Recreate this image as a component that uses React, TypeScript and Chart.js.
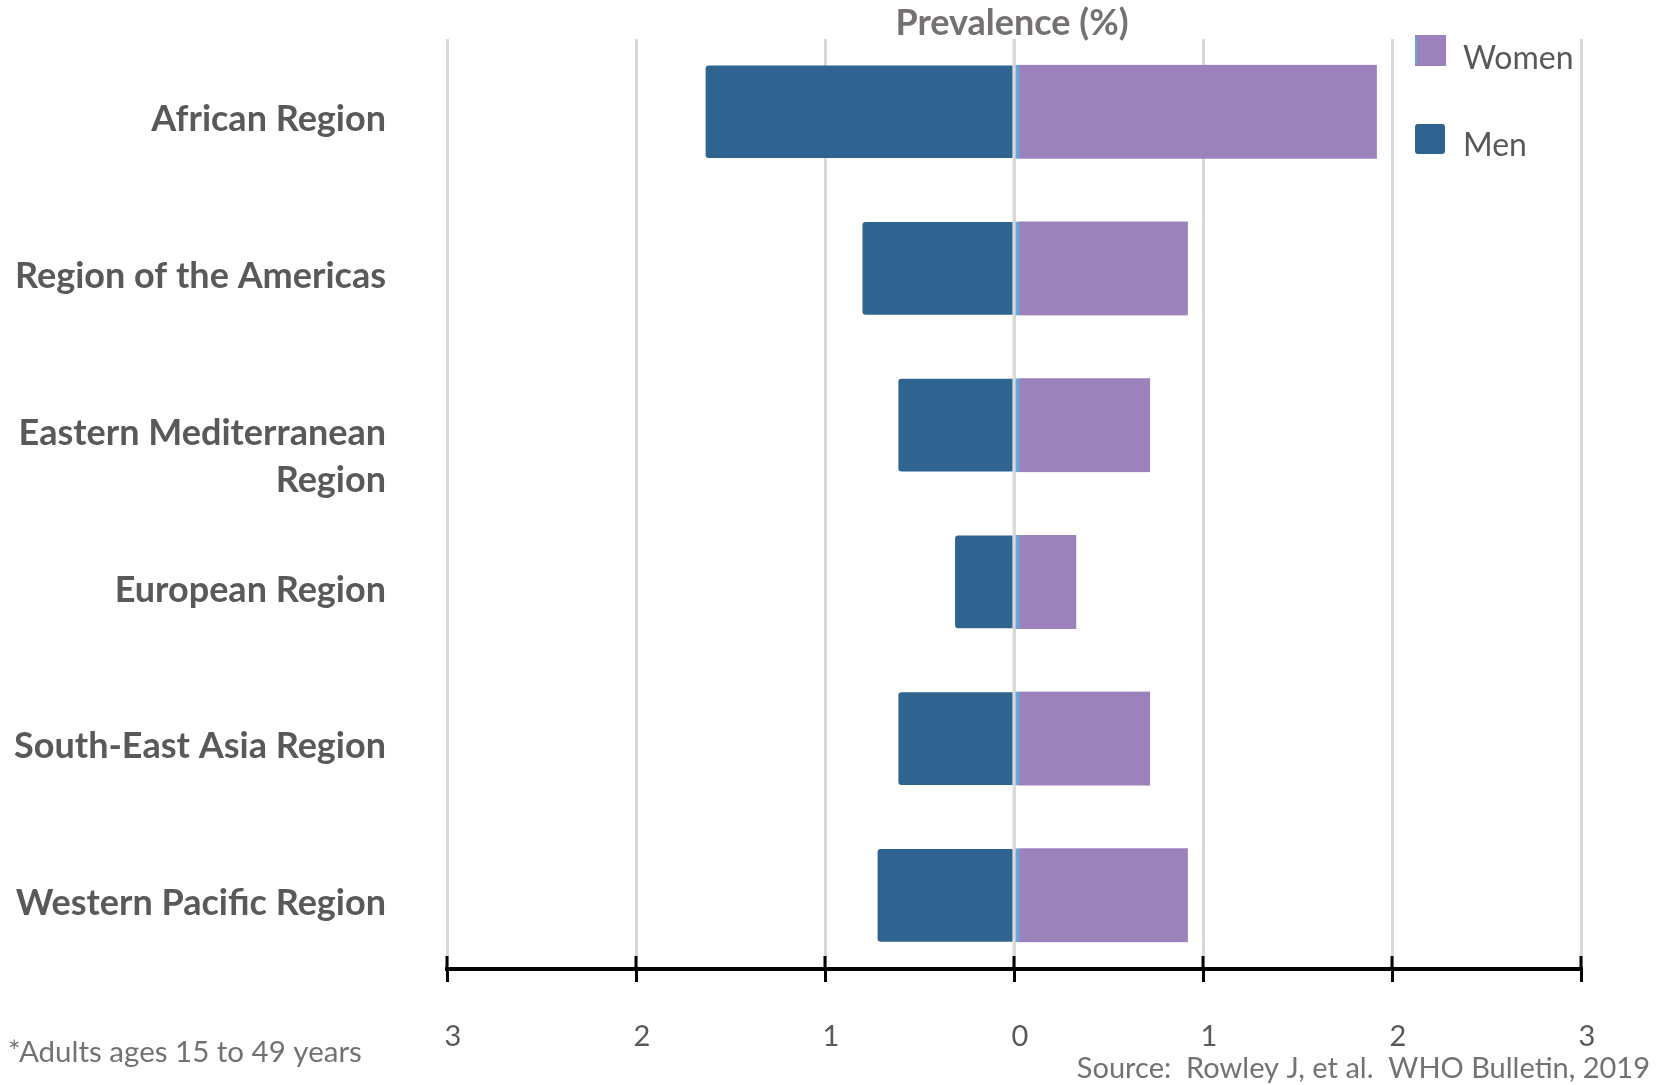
import React, { useEffect, useRef } from "react";
import { Chart, registerables, CategoryScale } from "chart.js";

Chart.register(...registerables);

// Category scale whose band spacing can be slightly widened beyond the plot edges
class SpacedCategoryScale extends (CategoryScale as any) {
  static id = "spacedCategory";
  static defaults = (CategoryScale as any).defaults;
  configure() {
    super.configure();
    const o: any = (this as any).options;
    const startShift = o.startShift || 0;
    const endShift = o.endShift || 0;
    (this as any)._startValue += startShift;
    (this as any)._valueRange -= startShift + endShift;
  }
}
Chart.register(SpacedCategoryScale as any);

const categories: (string | string[])[] = [
  "African Region",
  "Region of the Americas",
  ["", "Eastern Mediterranean", "Region"],
  "European Region",
  "South-East Asia Region",
  "Western Pacific Region",
];
const menValues = [1.63, 0.8, 0.61, 0.31, 0.61, 0.72];
const womenValues = [1.92, 0.92, 0.72, 0.33, 0.72, 0.92];
const tickValues = [-3, -2, -1, 0, 1, 2, 3];
const seriesLabels = ["Women", "Men"];
const chartTitle = "Prevalence (%)";
const footnote = "*Adults ages 15 to 49 years";
const sourceNote = "Source:  Rowley J, et al.  WHO Bulletin, 2019";

const FONT = "Lato, 'Open Sans', sans-serif";
const MEN_COLOR = "#2F6390";
const WOMEN_COLOR = "#9B82BB";
const EDGE_BLUE = "#62A8DC";
const GRID_COLOR = "#D9D9D9";
const LABEL_COLOR = "#595959";
const NOTE_COLOR = "#767171";

const W = 1660;
const H = 1085;

const overlayPlugin = {
  id: "overlay",
  afterDatasetsDraw(chart: any) {
    const { ctx, chartArea, scales } = chart;
    const xs = scales.x;
    const x0 = xs.getPixelForValue(0);
    ctx.save();
    ctx.strokeStyle = GRID_COLOR;
    ctx.lineWidth = 3;
    ctx.beginPath();
    ctx.moveTo(x0, chartArea.top);
    ctx.lineTo(x0, chartArea.bottom - 2);
    ctx.stroke();
    ctx.restore();
  },
  afterDraw(chart: any) {
    const { ctx, chartArea, scales } = chart;
    const xs = scales.x;
    ctx.save();
    // upper halves of the tick marks
    ctx.strokeStyle = "#000";
    ctx.lineWidth = 3;
    tickValues.forEach((v) => {
      const px = xs.getPixelForValue(v);
      ctx.beginPath();
      ctx.moveTo(px, chartArea.bottom - 13);
      ctx.lineTo(px, chartArea.bottom);
      ctx.stroke();
    });

    // title
    ctx.fillStyle = NOTE_COLOR;
    ctx.font = `bold 36px ${FONT}`;
    ctx.textAlign = "center";
    ctx.textBaseline = "middle";
    ctx.fillText(chartTitle, 1012, 23);

    // legend
    const lx = 1415;
    ctx.fillStyle = WOMEN_COLOR;
    ctx.fillRect(lx, 35, 31, 31);
    ctx.fillStyle = EDGE_BLUE;
    ctx.fillRect(lx, 37, 2, 27);
    ctx.fillStyle = MEN_COLOR;
    ctx.beginPath();
    (ctx as any).roundRect(lx, 124, 30, 30, 3);
    ctx.fill();

    ctx.fillStyle = LABEL_COLOR;
    ctx.font = `32px ${FONT}`;
    ctx.textAlign = "left";
    ctx.textBaseline = "middle";
    ctx.fillText(seriesLabels[0], 1463, 59);
    ctx.fillText(seriesLabels[1], 1463, 146);

    // notes
    ctx.fillStyle = NOTE_COLOR;
    ctx.font = `29.5px ${FONT}`;
    ctx.textAlign = "left";
    ctx.fillText(footnote, 8, 1052);
    ctx.font = `29px ${FONT}`;
    ctx.textAlign = "right";
    ctx.fillText(sourceNote, 1650, 1069);
    ctx.restore();
  },
};

export default function App() {
  const canvasRef = useRef<HTMLCanvasElement | null>(null);

  useEffect(() => {
    const canvas = canvasRef.current;
    if (!canvas) return;
    const chart = new Chart(canvas, {
      type: "bar",
      data: {
        labels: categories as any,
        datasets: [
          {
            label: "Men",
            data: menValues.map((v) => -v),
            backgroundColor: MEN_COLOR,
            borderWidth: 0,
            borderRadius: 3,
            barThickness: 92,
            grouped: false,
          } as any,
          {
            label: "Women",
            data: womenValues,
            backgroundColor: WOMEN_COLOR,
            borderColor: EDGE_BLUE,
            borderWidth: { left: 4, top: 0, right: 0, bottom: 0 },
            borderSkipped: false,
            barThickness: 94,
            grouped: false,
          } as any,
        ],
      },
      options: {
        indexAxis: "y",
        responsive: false,
        maintainAspectRatio: false,
        animation: false,
        events: [],
        layout: { padding: { top: 39, right: 79, left: 0, bottom: 0 } },
        plugins: {
          legend: { display: false },
          tooltip: { enabled: false },
          title: { display: false },
        },
        scales: {
          x: {
            type: "linear",
            position: "bottom",
            min: -3,
            max: 3,
            afterBuildTicks: (s: any) => {
              s.ticks = tickValues.map((v) => ({ value: v }));
            },
            afterFit: (s: any) => {
              s.height = 116;
              s.paddingLeft = 0;
              s.paddingRight = 0;
              s.paddingTop = 0;
              s.paddingBottom = 0;
            },
            ticks: {
              callback: (v: any) => String(Math.abs(Number(v))),
              color: LABEL_COLOR,
              font: { family: FONT, size: 29 },
              padding: 37,
              labelOffset: 6,
              maxRotation: 0,
              autoSkip: false,
            },
            grid: {
              color: GRID_COLOR,
              lineWidth: 3,
              tickColor: "#000",
              tickLength: 13,
              tickWidth: 3,
              drawTicks: true,
            },
            border: { display: true, color: "#000", width: 4 },
          },
          y: {
            type: "spacedCategory",
            position: "left",
            startShift: 0.018,
            endShift: 0.015,
            afterFit: (s: any) => {
              s.width = 447;
              s.paddingTop = 0;
              s.paddingBottom = 0;
              s.paddingLeft = 0;
              s.paddingRight = 0;
            },
            grid: { display: false, drawTicks: false },
            border: { display: false },
            ticks: {
              color: LABEL_COLOR,
              font: { family: FONT, size: 36, weight: "bold", lineHeight: 1.3 },
              padding: 61,
              labelOffset: 8,
              autoSkip: false,
            },
          },
        },
      } as any,
      plugins: [overlayPlugin],
    });

    let alive = true;
    if ((document as any).fonts) {
      Promise.all([
        (document as any).fonts.load(`bold 36px Lato`),
        (document as any).fonts.load(`29px Lato`),
      ]).then(() => {
        if (alive) chart.update();
      }).catch(() => {});
    }

    return () => {
      alive = false;
      chart.destroy();
    };
  }, []);

  return (
    <div style={{ position: "fixed", left: 0, top: 0, width: W, height: H, background: "#fff" }}>
      <canvas ref={canvasRef} width={W} height={H} style={{ display: "block", width: W, height: H }} />
    </div>
  );
}
